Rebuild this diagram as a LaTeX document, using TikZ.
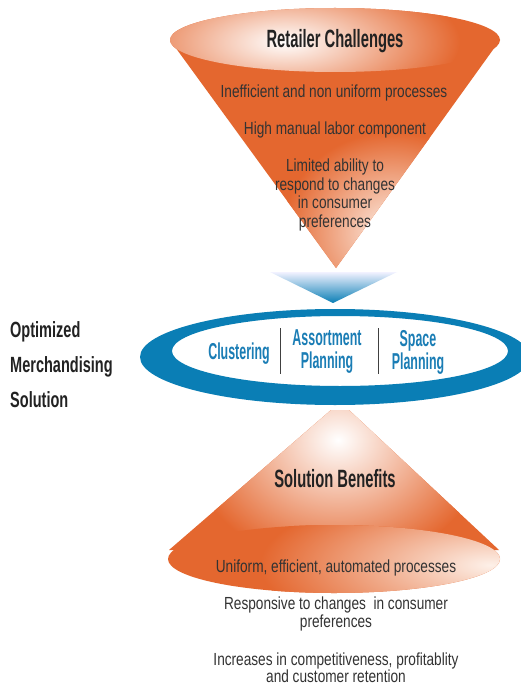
\documentclass[tikz,border=0pt]{standalone}
\usepackage{fontspec}
\setmainfont{Liberation Sans}
\newfontfamily\bodyf{Liberation Sans}[FakeStretch=0.78]
\newfontfamily\titlef{Liberation Sans}[FakeStretch=0.59]
\newfontfamily\bluef{Liberation Sans}[FakeStretch=0.54]
\newfontfamily\sidef{Liberation Sans}[FakeStretch=0.66]
\definecolor{orng}{HTML}{E4672F}
\definecolor{hilite}{HTML}{FDF0E8}
\definecolor{ringblue}{HTML}{0A7EB5}
\definecolor{txtblue}{HTML}{1A7DB5}
\definecolor{txt}{HTML}{333333}
\definecolor{ttl}{HTML}{222222}
\begin{document}
\begin{tikzpicture}[x=1pt,y=-1pt,
  body/.style={font=\bodyf\fontsize{17.5}{18.5}\selectfont, text=txt, align=center, inner sep=0pt},
  titletext/.style={font=\titlef\bfseries\fontsize{25}{26}\selectfont, text=ttl, inner sep=0pt},
  bluetext/.style={font=\bluef\bfseries\fontsize{23}{23}\selectfont, text=txtblue, align=center, inner sep=0pt},
  sidetext/.style={font=\sidef\bfseries\fontsize{22}{35}\selectfont, text=ttl, align=left, inner sep=0pt},
  divider/.style={draw=black!75, line width=1pt}]
\useasboundingbox (0,0) rectangle (521,687);
\clip (0,0) rectangle (521,687);
\fill[white] (0,0) rectangle (521,687);

% ---------- top cone ----------
\fill[orng] (170,40) -- (336,268) -- (500,40) -- cycle;
\begin{scope}
  \clip (170,40) -- (336,268) -- (500,40) -- cycle;
  \shade[inner color=hilite, outer color=orng] (392,232) ellipse [x radius=110, y radius=100];
\end{scope}
\fill[orng] (335,40) ellipse [x radius=165, y radius=32];
\begin{scope}
  \clip (335,40) ellipse [x radius=165, y radius=32];
  \shade[inner color=white, outer color=orng] (285,42) ellipse [x radius=175, y radius=70];
\end{scope}

% ---------- chevron ----------
\shade[top color=blue!5!white, bottom color=ringblue] (270,272) -- (397,272) -- (333,303) -- cycle;

% ---------- ring ----------
\fill[ringblue, even odd rule] (335,357) ellipse [x radius=195, y radius=48]
  (340,351) ellipse [x radius=168, y radius=35];

% ---------- bottom cone ----------
\fill[orng] (331,410) -- (349,410) -- (499,550) -- (169,550) -- cycle;
\begin{scope}
  \clip (331,410) -- (349,410) -- (499,550) -- (169,550) -- cycle;
  \shade[inner color=white, outer color=orng] (338,440) ellipse [x radius=150, y radius=125];
\end{scope}
\fill[orng] (334,559) ellipse [x radius=166, y radius=34];
\begin{scope}
  \clip (334,559) ellipse [x radius=166, y radius=34];
  \shade[inner color=hilite, outer color=orng] (490,565) ellipse [x radius=230, y radius=80];
\end{scope}

% ---------- texts ----------
\node[titletext] (rc) at (335,41) {Retailer Challenges};
\node[body] (c1) at (334,93) {Inefficient and non uniform processes};
\node[body] (c2) at (335,130) {High manual labor component};
\node[body] (c3) at (335,195) {Limited ability to\\respond to changes\\in consumer\\preferences};

\node[sidetext, anchor=west] (oms) at (10,365) {Optimized\\Merchandising\\Solution};

\node[bluetext] (cl) at (239,354) {Clustering};
\node[bluetext] (ap) at (327,352) {Assortment\\Planning};
\node[bluetext] (sp) at (418,352) {Space\\Planning};
\coordinate (d1t) at (280,328); \coordinate (d1b) at (280,374);
\coordinate (d2t) at (378,328); \coordinate (d2b) at (378,374);
\draw[divider] (d1t) -- (d1b);
\draw[divider] (d2t) -- (d2b);

\node[titletext] (sb) at (335,479) {Solution Benefits};
\node[body] (b1) at (336,568) {Uniform, efficient, automated processes};
\node[body] (b2) at (336,614) {Responsive to changes \ in consumer\\preferences};
\node[body, font=\bodyf\fontsize{17.5}{17}\selectfont] (b3) at (336,668) {Increases in competitiveness, profitablity\\and customer retention};
\end{tikzpicture}
\end{document}
